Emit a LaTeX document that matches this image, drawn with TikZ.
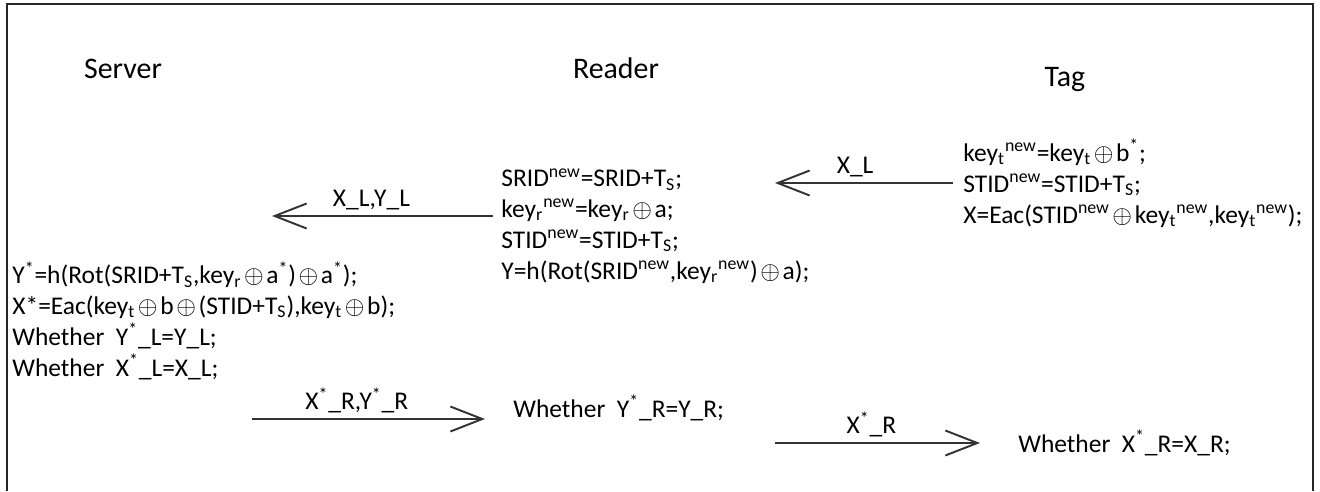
\documentclass[tikz,border=0pt]{standalone}
\usepackage{fontspec}
\setmainfont{Carlito}
\usetikzlibrary{arrows.meta}
\colorlet{framecol}{black!85}
\colorlet{msgcol}{black!80}
\newcommand{\xo}{\kern1.5pt\ensuremath{\oplus}\kern1.5pt}
\tikzset{
  party/.style={font=\fontsize{17}{20}\selectfont, inner sep=0pt, anchor=base},
  block/.style={font=\fontsize{14.5}{17.6}\selectfont, align=left, anchor=base west, inner sep=0pt},
  lbl/.style={font=\fontsize{14.5}{17}\selectfont, above, inner sep=3pt},
  msg/.style={draw=msgcol, line width=1.1pt, -{Straight Barb[length=0.64cm,width=0.5cm,line width=1.1pt]}}
}

\begin{document}
\begin{tikzpicture}[x=0.02cm,y=-0.02cm]
  \useasboundingbox (0,0) rectangle (1320,491);

  \coordinate (frame_n1) at (7,491);
  \coordinate (frame_n2) at (7,4);
  \coordinate (frame_n3) at (1313,4);
  \coordinate (frame_n4) at (1313,491);

  \draw[color=framecol,line width=1.6pt] (frame_n1) -- (frame_n2) -- (frame_n3) -- (frame_n4);

  \node[party] (server) at (123,78) {Server};
  \node[party] (reader) at (616,78) {Reader};
  \node[party] (tag) at (1065,86) {Tag};

%  base anchor sits on the last line
  \node[block] (tag_calc) at (963,223) {key\textsubscript{t}\textsuperscript{new}=key\textsubscript{t}\xo b\textsuperscript{*};\\
    STID\textsuperscript{new}=STID+T\textsubscript{S};\\
    X=Eac(STID\textsuperscript{new}\xo key\textsubscript{t}\textsuperscript{new},key\textsubscript{t}\textsuperscript{new});};

  \node[block] (reader_calc) at (501,279) {SRID\textsuperscript{new}=SRID+T\textsubscript{S};\\
    key\textsubscript{r}\textsuperscript{new}=key\textsubscript{r}\xo a;\\
    STID\textsuperscript{new}=STID+T\textsubscript{S};\\
    Y=h(Rot(SRID\textsuperscript{new},key\textsubscript{r}\textsuperscript{new})\xo a);};

  \node[block] (server_calc) at (12,376) {Y\textsuperscript{*}=h(Rot(SRID+T\textsubscript{S},key\textsubscript{r}\xo a\textsuperscript{*})\xo a\textsuperscript{*});\\
    X*=Eac(key\textsubscript{t}\xo b\xo(STID+T\textsubscript{S}),key\textsubscript{t}\xo b);\\
    Whether\ \ Y\textsuperscript{*}\_L=Y\_L;\\
    Whether\ \ X\textsuperscript{*}\_L=X\_L;};

  \node[block] (reader_check) at (513,417) {Whether\ \ Y\textsuperscript{*}\_R=Y\_R;};
  \node[block] (tag_check) at (1018,452) {Whether\ \ X\textsuperscript{*}\_R=X\_R;};

%  Tag to reader
  \coordinate (msg1_n1) at (953,183);
  \coordinate (msg1_n2) at (775,183);
  \draw[msg] (msg1_n1) -- node[lbl, pos=0.55] {X\_L} (msg1_n2);

%  Reader to server
  \coordinate (msg2_n1) at (493,216);
  \coordinate (msg2_n2) at (272,216);
  \draw[msg] (msg2_n1) -- node[lbl, pos=0.55] {X\_L,Y\_L} (msg2_n2);

%  Server to reader
  \coordinate (msg3_n1) at (252,419);
  \coordinate (msg3_n2) at (485,419);
  \draw[msg] (msg3_n1) -- node[lbl, pos=0.45] {X\textsuperscript{*}\_R,Y\textsuperscript{*}\_R} (msg3_n2);

%  Reader to tag
  \coordinate (msg4_n1) at (775,443);
  \coordinate (msg4_n2) at (980,443);
  \draw[msg] (msg4_n1) -- node[lbl, pos=0.47] {X\textsuperscript{*}\_R} (msg4_n2);

\end{tikzpicture}
\end{document}
